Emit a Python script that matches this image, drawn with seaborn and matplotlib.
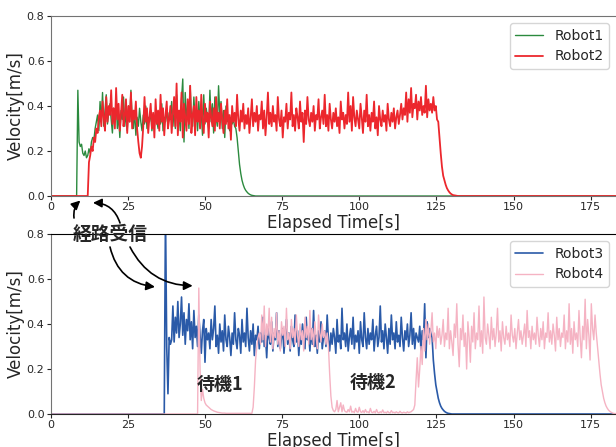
import numpy as np
import pandas as pd
import seaborn as sns
import matplotlib.pyplot as plt

# sampling step of the logged velocity [s]
dt = 0.4

# Robot1 (starts moving right after route received)
r1_start = 8.4
r1_vel = [0.0, 0.47, 0.24, 0.22, 0.23, 0.19, 0.18, 0.20, 0.17, 0.18, 0.21,
          0.19, 0.24, 0.26, 0.25, 0.30, 0.33,
          0.36, 0.29, 0.42, 0.33, 0.46, 0.31, 0.38, 0.45, 0.32, 0.37,
          0.41, 0.34, 0.28, 0.39, 0.33, 0.43, 0.30, 0.36, 0.26, 0.38,
          0.34, 0.44, 0.31, 0.37, 0.29, 0.40, 0.33, 0.47, 0.35, 0.30,
          0.38, 0.27, 0.35, 0.31, 0.39, 0.33, 0.29, 0.36, 0.32, 0.40,
          0.30, 0.35, 0.33, 0.38, 0.29, 0.34, 0.31, 0.37, 0.33, 0.30,
          0.36, 0.32, 0.41, 0.29, 0.35, 0.33, 0.39, 0.31, 0.37, 0.34,
          0.42, 0.31, 0.38, 0.30, 0.45, 0.33, 0.36, 0.29, 0.43, 0.52,
          0.24, 0.46, 0.33, 0.41, 0.30, 0.49, 0.35, 0.31, 0.44, 0.34,
          0.38, 0.29, 0.42, 0.33, 0.37, 0.27, 0.45, 0.32, 0.39, 0.35,
          0.30, 0.47, 0.33, 0.41, 0.28, 0.44, 0.35, 0.31, 0.49, 0.36,
          0.42, 0.30, 0.38, 0.26, 0.40, 0.33, 0.36, 0.29, 0.35, 0.32,
          0.34, 0.31,
          0.30, 0.26, 0.20, 0.14, 0.10, 0.07, 0.05, 0.035, 0.025, 0.018,
          0.012, 0.008, 0.005, 0.003, 0.002, 0.001, 0.0]

# Robot2
r2_start = 12.0
r2_vel = [0.0, 0.15, 0.18, 0.22, 0.20, 0.26, 0.24, 0.30, 0.28, 0.35,
          0.38, 0.31, 0.42, 0.35, 0.29, 0.44, 0.33, 0.40, 0.36, 0.47,
          0.32, 0.39, 0.30, 0.48, 0.34, 0.41, 0.29, 0.37, 0.45, 0.31,
          0.36, 0.43, 0.28, 0.40, 0.33, 0.46, 0.30, 0.38, 0.34, 0.42,
          0.30, 0.24, 0.19, 0.17, 0.22, 0.31, 0.44, 0.33, 0.39, 0.28,
          0.35, 0.41, 0.30, 0.37, 0.26, 0.43, 0.32, 0.38, 0.29, 0.45,
          0.33, 0.39, 0.27, 0.36, 0.42, 0.30, 0.34, 0.40, 0.28, 0.37,
          0.44, 0.31, 0.50, 0.27, 0.38, 0.33, 0.46, 0.26, 0.41, 0.35,
          0.29, 0.43, 0.32, 0.49, 0.28, 0.36, 0.40, 0.27, 0.44, 0.33,
          0.38, 0.30, 0.45, 0.34, 0.28, 0.41, 0.33, 0.37, 0.26, 0.42,
          0.35, 0.31, 0.39, 0.29, 0.44, 0.33, 0.37, 0.30, 0.41, 0.34,
          0.28, 0.38, 0.32, 0.43, 0.30, 0.36, 0.25, 0.40, 0.33, 0.37,
          0.31, 0.45, 0.34, 0.29, 0.38, 0.33, 0.41, 0.30, 0.36, 0.32,
          0.39, 0.28, 0.35, 0.43, 0.31, 0.37, 0.33, 0.40, 0.29, 0.36,
          0.34, 0.42, 0.30, 0.38, 0.27, 0.35, 0.46, 0.32, 0.37, 0.31,
          0.40, 0.33, 0.36, 0.29, 0.44, 0.34, 0.31, 0.38, 0.26, 0.35,
          0.33, 0.41, 0.30, 0.37, 0.34, 0.46, 0.31, 0.36, 0.29, 0.39,
          0.35, 0.30, 0.42, 0.33, 0.37, 0.24, 0.38, 0.32, 0.44, 0.34,
          0.31, 0.37, 0.33, 0.40, 0.29, 0.36, 0.34, 0.43, 0.30, 0.35,
          0.38, 0.32, 0.45, 0.31, 0.36, 0.29, 0.41, 0.34, 0.30, 0.37,
          0.33, 0.39, 0.31, 0.35, 0.28, 0.42, 0.34, 0.37, 0.30, 0.36,
          0.32, 0.46, 0.33, 0.40, 0.29, 0.44, 0.35, 0.31, 0.38, 0.34,
          0.30, 0.41, 0.35, 0.28, 0.38, 0.33, 0.45, 0.31, 0.36, 0.29,
          0.37, 0.33, 0.42, 0.30, 0.35, 0.27, 0.40, 0.34, 0.31, 0.38,
          0.33, 0.36, 0.29, 0.41, 0.34, 0.31, 0.37, 0.33, 0.39, 0.30,
          0.35, 0.38, 0.32, 0.36, 0.41, 0.34, 0.39, 0.36, 0.46, 0.33,
          0.43, 0.37, 0.48, 0.35, 0.41, 0.39, 0.45, 0.34, 0.42, 0.38,
          0.44, 0.36, 0.40, 0.37, 0.49, 0.35, 0.43, 0.38, 0.41, 0.37,
          0.44, 0.38, 0.40, 0.34,
          0.33, 0.26, 0.19, 0.13, 0.09, 0.07, 0.05, 0.035, 0.025, 0.017,
          0.011, 0.007, 0.004, 0.003, 0.002, 0.001, 0.0]

# Robot3
r3_start = 36.8
r3_vel = [0.0, 0.90, 0.30, 0.09, 0.34, 0.31,
          0.33, 0.48, 0.32, 0.43, 0.36, 0.50, 0.34, 0.40, 0.52, 0.35,
          0.45, 0.31, 0.42, 0.37, 0.49, 0.33, 0.41, 0.29, 0.46, 0.34,
          0.39, 0.30, 0.44, 0.35, 0.27, 0.37, 0.42, 0.23, 0.38, 0.33,
          0.36, 0.29, 0.42, 0.33, 0.38, 0.48, 0.30, 0.35, 0.27, 0.40,
          0.32, 0.37, 0.28, 0.44, 0.33, 0.30, 0.39, 0.34, 0.26, 0.36,
          0.31, 0.45, 0.33, 0.29, 0.38, 0.35, 0.27, 0.42, 0.32, 0.36,
          0.30, 0.47, 0.34, 0.28, 0.37, 0.31, 0.40, 0.26, 0.35, 0.33,
          0.39, 0.29, 0.36, 0.32, 0.43, 0.30, 0.35, 0.25, 0.38, 0.34,
          0.31, 0.41, 0.28, 0.36, 0.33, 0.45, 0.30, 0.37, 0.29, 0.34,
          0.38, 0.27, 0.35, 0.42, 0.31, 0.36, 0.28, 0.39, 0.33, 0.30,
          0.44, 0.32, 0.37, 0.26, 0.35, 0.31, 0.40, 0.34, 0.29, 0.43,
          0.33, 0.36, 0.28, 0.38, 0.31, 0.46, 0.30, 0.35, 0.27, 0.37,
          0.32, 0.41, 0.29, 0.34, 0.37, 0.30, 0.44, 0.33, 0.28, 0.36,
          0.31, 0.38, 0.34, 0.27, 0.42, 0.32, 0.35, 0.29, 0.47, 0.33,
          0.36, 0.30, 0.40, 0.28, 0.34, 0.38, 0.31, 0.43, 0.29, 0.35,
          0.32, 0.37, 0.27, 0.41, 0.33, 0.30, 0.45, 0.34, 0.29, 0.38,
          0.31, 0.36, 0.33, 0.42, 0.28, 0.35, 0.39, 0.30, 0.34, 0.48,
          0.32, 0.37, 0.29, 0.40, 0.34, 0.27, 0.38, 0.31, 0.44, 0.33,
          0.36, 0.29, 0.41, 0.32, 0.35, 0.30, 0.43, 0.34, 0.28, 0.37,
          0.33, 0.40, 0.30, 0.35, 0.45, 0.31, 0.38, 0.29, 0.36, 0.34,
          0.32, 0.39, 0.28, 0.37, 0.33, 0.49, 0.25, 0.41, 0.34, 0.38,
          0.36, 0.34,
          0.24, 0.18, 0.13, 0.10, 0.07, 0.05, 0.035, 0.025, 0.018, 0.012,
          0.008, 0.005, 0.003, 0.002, 0.001, 0.0]

# Robot4 (waits twice: 待機1, 待機2)
r4_start = 47.6
r4_vel = [0.0, 0.56, 0.20, 0.06, 0.11, 0.07, 0.05, 0.04, 0.035, 0.03,
          0.025, 0.02, 0.017, 0.014, 0.012, 0.01, 0.008, 0.007, 0.006,
          0.005, 0.004, 0.004, 0.004, 0.003, 0.003, 0.003, 0.003, 0.003,
          0.003, 0.003, 0.003, 0.003, 0.003, 0.003, 0.003, 0.003, 0.003,
          0.003, 0.003, 0.003, 0.003, 0.003, 0.003, 0.003, 0.003,
          0.03, 0.12, 0.24, 0.30, 0.34,
          0.36, 0.31, 0.44, 0.33, 0.48, 0.30, 0.40, 0.35, 0.47, 0.32,
          0.43, 0.29, 0.38, 0.34, 0.45, 0.31, 0.37, 0.28, 0.41, 0.35,
          0.39, 0.30, 0.47, 0.33, 0.36, 0.29, 0.42, 0.34, 0.38, 0.31,
          0.44, 0.35, 0.30, 0.40, 0.33, 0.37, 0.28, 0.43, 0.34, 0.39,
          0.31, 0.46, 0.33, 0.38, 0.30, 0.41, 0.35, 0.29, 0.44, 0.36,
          0.32, 0.40, 0.34, 0.37, 0.31, 0.36,
          0.30, 0.18, 0.08, 0.03, 0.015,
          0.01, 0.02, 0.06, 0.01, 0.03, 0.05, 0.01, 0.04, 0.015, 0.01,
          0.008, 0.02, 0.01, 0.035, 0.008, 0.012, 0.006, 0.025, 0.01, 0.008,
          0.03, 0.01, 0.007, 0.015, 0.006, 0.02, 0.008, 0.01, 0.005, 0.025,
          0.008, 0.006, 0.012, 0.005, 0.02, 0.007, 0.005, 0.01, 0.006, 0.018,
          0.006, 0.008, 0.005, 0.012, 0.006, 0.005, 0.015, 0.006, 0.008,
          0.005, 0.01, 0.006, 0.005, 0.012, 0.006, 0.005, 0.008, 0.006,
          0.005, 0.01, 0.006, 0.008, 0.01, 0.015, 0.02,
          0.04, 0.15, 0.25, 0.12, 0.20, 0.30, 0.22, 0.38, 0.28, 0.42,
          0.33, 0.40, 0.31, 0.37, 0.45, 0.32, 0.36, 0.29, 0.39, 0.34,
          0.38, 0.31, 0.35, 0.42, 0.30, 0.36, 0.33, 0.47, 0.29, 0.37,
          0.32, 0.26, 0.40, 0.34, 0.49, 0.31, 0.21, 0.38, 0.33, 0.44,
          0.30, 0.36, 0.20, 0.41, 0.34, 0.23, 0.39, 0.32, 0.45, 0.29,
          0.36, 0.33, 0.48, 0.30, 0.37, 0.27, 0.52, 0.34, 0.31, 0.40,
          0.35, 0.29, 0.43, 0.33, 0.38, 0.30, 0.36, 0.47, 0.32, 0.37,
          0.28, 0.41, 0.34, 0.31, 0.39, 0.33, 0.36, 0.30, 0.44, 0.35,
          0.32, 0.38, 0.29, 0.36, 0.42, 0.33, 0.37, 0.31, 0.35, 0.40,
          0.30, 0.46, 0.34, 0.37, 0.29, 0.39, 0.33, 0.36, 0.31, 0.43,
          0.35, 0.30, 0.38, 0.33, 0.41, 0.29, 0.36, 0.34, 0.45, 0.32,
          0.37, 0.31, 0.40, 0.35, 0.28, 0.43, 0.33, 0.38, 0.30, 0.36,
          0.34, 0.44, 0.29, 0.37, 0.32, 0.49, 0.31, 0.38, 0.27, 0.41,
          0.33, 0.36, 0.30, 0.46, 0.34, 0.25, 0.39, 0.33, 0.51, 0.29,
          0.42, 0.35, 0.24, 0.49, 0.38, 0.33, 0.44, 0.36,
          0.30, 0.24, 0.18, 0.13, 0.10, 0.07, 0.05, 0.035, 0.025, 0.017,
          0.012, 0.008, 0.005, 0.003, 0.002]

x_end = 183.2
colors = {"Robot1": "#2b8a3e", "Robot2": "#ec272d",
          "Robot3": "#2a5aa8", "Robot4": "#f5b3c3"}
widths = {"Robot1": 1.0, "Robot2": 1.3, "Robot3": 1.2, "Robot4": 1.0}


def to_frame(name, start, vel):
    """Build a (time, velocity) table, resting at 0 before start."""
    t = start + dt * np.arange(len(vel))
    time = np.concatenate([[0.0], t, [x_end + 2]])
    v = np.concatenate([[0.0], vel, [vel[-1]]])
    return pd.DataFrame({"time": time, "velocity": v, "robot": name})


def draw(ax, frames):
    for df in frames:
        name = df["robot"].iloc[0]
        sns.lineplot(data=df, x="time", y="velocity", ax=ax,
                     color=colors[name], lw=widths[name], label=name,
                     estimator=None, sort=False)
    ax.set_xlim(0, x_end)
    ax.set_ylim(0, 0.8)
    ax.set_xticks([0, 25, 50, 75, 100, 125, 150, 175])
    ax.set_yticks([0.0, 0.2, 0.4, 0.6, 0.8])
    ax.set_xlabel("Elapsed Time[s]", fontsize=12, labelpad=1)
    ax.set_ylabel("Velocity[m/s]", fontsize=12, labelpad=1)
    ax.tick_params(labelsize=8, length=3, pad=1.5)
    ax.spines["right"].set_visible(False)
    ax.legend(loc="upper right", fontsize=10)


sns.set_style("ticks")
plt.rcParams['font.family'] = ['DejaVu Sans', 'Noto Sans CJK JP']

fig = plt.figure(figsize=(6.16, 4.47), dpi=100)
ax1 = fig.add_axes([0.0823, 0.5615, 0.9177, 0.4027])
ax2 = fig.add_axes([0.0823, 0.0738, 0.9177, 0.4027])

draw(ax1, [to_frame("Robot1", r1_start, r1_vel),
           to_frame("Robot2", r2_start, r2_vel)])
draw(ax2, [to_frame("Robot3", r3_start, r3_vel),
           to_frame("Robot4", r4_start, r4_vel)])

for sp in ["left", "top", "bottom"]:
    ax1.spines[sp].set_color("0.45")
ax2.spines["left"].set_color("0.45")
ax2.spines["top"].set_color("black")
ax2.spines["bottom"].set_color("0.15")

jp = dict(family=['Noto Sans CJK JP', 'DejaVu Sans'], fontweight='bold')
fig.text(109.7 / 616, 1 - 234 / 447, "経路受信", ha="center", va="center",
         fontsize=13.5, **jp)
ax2.text(54.8, 0.133, "待機1", ha="center", va="center", fontsize=13, **jp)
ax2.text(104.3, 0.142, "待機2", ha="center", va="center", fontsize=13, **jp)

arrow = dict(arrowstyle="-|>", color="black", lw=1.2, mutation_scale=13,
             shrinkA=0, shrinkB=0)
ax1.annotate("", xy=(9.6, -0.02), xytext=(74, 229),
             textcoords="figure pixels", annotation_clip=False,
             arrowprops=dict(connectionstyle="arc3,rad=-0.25", **arrow))
ax1.annotate("", xy=(13.7, -0.03), xytext=(120, 224),
             textcoords="figure pixels", annotation_clip=False,
             arrowprops=dict(connectionstyle="arc3,rad=0.35", **arrow))
ax2.annotate("", xy=(33.8, 0.565), xytext=(110, 200),
             textcoords="figure pixels", annotation_clip=False,
             arrowprops=dict(connectionstyle="arc3,rad=0.35", **arrow))
ax2.annotate("", xy=(46.0, 0.57), xytext=(130, 200),
             textcoords="figure pixels", annotation_clip=False,
             arrowprops=dict(connectionstyle="arc3,rad=0.3", **arrow))

fig.savefig("out.png", dpi=100)
